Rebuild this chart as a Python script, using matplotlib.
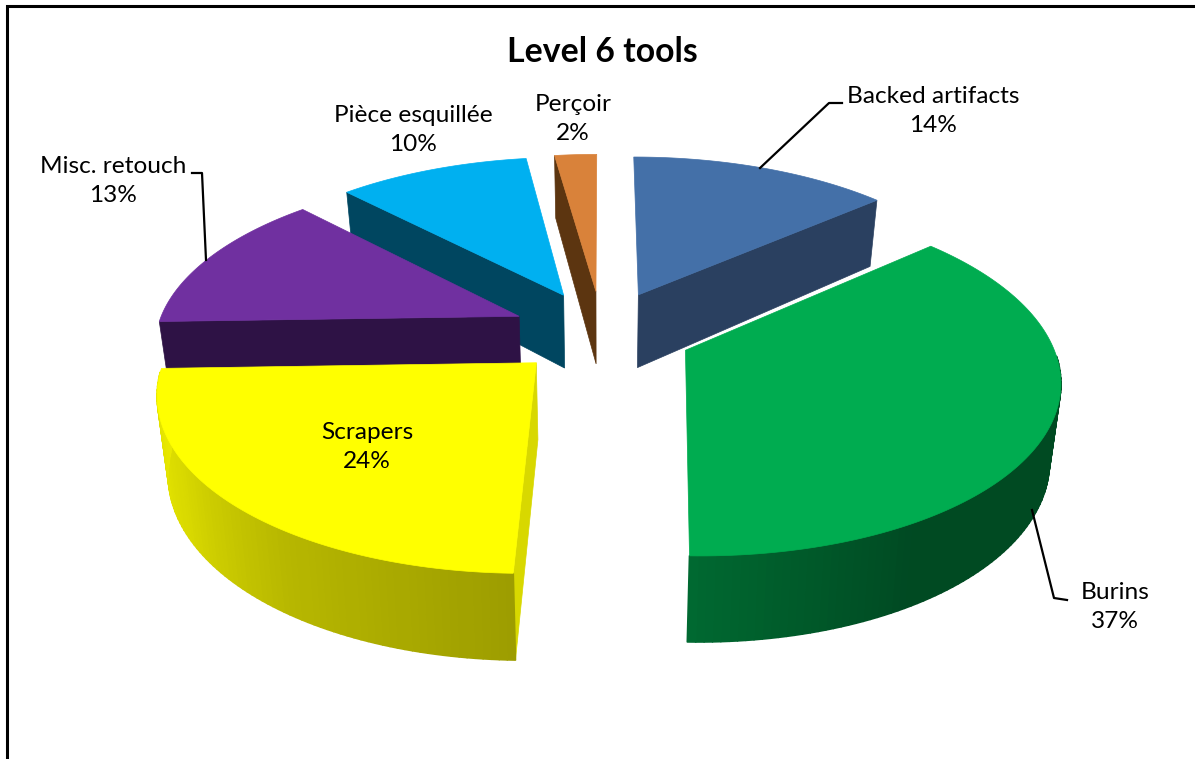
import numpy as np
import matplotlib
matplotlib.use("Agg")
import matplotlib.pyplot as plt
from matplotlib.collections import PolyCollection
from matplotlib.colors import to_rgb

# data (labels show the rounded share)
names = ["Backed artifacts", "Burins", "Scrapers", "Misc. retouch", "Pièce esquillée", "Perçoir"]
shares = [13.6, 36.8, 24.1, 13.3, 10.0, 2.2]
top_colors = ["#4470a8", "#00ac50", "#ffff00", "#7030a0", "#00b0f0", "#d9823a"]
wall_colors = ["#2a4060", "#00ac50", "#d8d800", "#2e1245", "#004660", "#5c3510"]
title = "Level 6 tools"

# fake 3d camera, screen pixels
cx, cy = 602, 332
Rx, Ry = 363, 168.8
persp = 0.15
explode = 0.25


def project(x, y, low=False):
    w = 1 + persp * y
    sx = Rx * x / w
    sy = -Ry * y / w
    if low:
        sx = sx * 0.975
        sy = sy + 75 - 10 * y
    return cx + sx, cy + sy


def shade(deg):
    return np.interp(deg, [90, 150, 183, 215, 240, 270], [0.43, 0.43, 0.62, 0.72, 0.85, 0.92])


def world(deg, mid, r=1.0):
    t, m = np.radians(deg), np.radians(mid)
    return explode * np.sin(m) + r * np.sin(t), explode * np.cos(m) + r * np.cos(t)


fig = plt.figure(figsize=(11.95, 7.59), dpi=100)
ax = fig.add_axes([0, 0, 1, 1])
ax.set_xlim(0, 1195)
ax.set_ylim(759, 0)
ax.axis("off")
plt.rcParams["font.family"] = ["Lato", "DejaVu Sans"]

edges = np.cumsum([0] + shares) * 3.6

# back slices first
order = [5, 4, 0, 3, 1, 2]
for z, i in enumerate(order):
    a, b = edges[i], edges[i + 1]
    mid = (a + b) / 2
    ang = np.linspace(a, b, 120)
    x0, y0 = world(mid, mid, 0)

    # cut walls, only the ones facing us
    for deg, show in [(a, 180 < a < 360), (b, 0 < b < 180)]:
        if show:
            xr, yr = world(deg, mid)
            p = [project(x0, y0), project(xr, yr), project(xr, yr, True), project(x0, y0, True)]
            ax.fill([q[0] for q in p], [q[1] for q in p], color=wall_colors[i], lw=0.5, zorder=z * 3 + 1)

    # outer wall
    lo, hi = max(a, 92), min(b, 267)
    if lo < hi:
        steps = np.linspace(lo, hi, 80)
        polys, cols = [], []
        base = np.array(to_rgb(top_colors[i]))
        for d1, d2 in zip(steps[:-1], steps[1:]):
            x1, y1 = world(d1, mid)
            x2, y2 = world(d2, mid)
            polys.append([project(x1, y1), project(x2, y2), project(x2, y2, True), project(x1, y1, True)])
            cols.append(base * shade((d1 + d2) / 2))
        ax.add_collection(PolyCollection(polys, facecolors=cols, edgecolors=cols, linewidths=1.2, zorder=z * 3 + 2))

    # top face
    xs, ys = world(ang, mid)
    px, py = project(np.r_[x0, xs], np.r_[y0, ys])
    ax.fill(px, py, color=top_colors[i], lw=0.5, zorder=z * 3 + 3)

# labels
label_pos = [(933, 111), (1115, 607), (367, 447), (113, 181), (413, 130), (573, 119)]
for name, share, (lx, ly) in zip(names, shares, label_pos):
    ax.text(lx, ly, "%s\n%d%%" % (name, round(share)), ha="center", va="center",
            fontsize=17.6, linespacing=1.45, color="black", zorder=40)

# leader lines
ax.plot([760, 829, 842], [168, 103, 103], color="black", lw=1.6, zorder=30)
ax.plot([206, 202, 192], [260, 173, 173], color="black", lw=1.6, zorder=30)
ax.plot([1032, 1054, 1067], [510, 598, 600], color="black", lw=1.6, zorder=30)

ax.text(602, 52, title, ha="center", va="center", fontsize=24.3, fontweight="bold", zorder=40)

# chart frame
ax.plot([7, 7, 1195], [759, 6, 6], color="black", lw=2.2, zorder=50, solid_capstyle="butt", solid_joinstyle="miter")

fig.savefig("out.png", dpi=100)
